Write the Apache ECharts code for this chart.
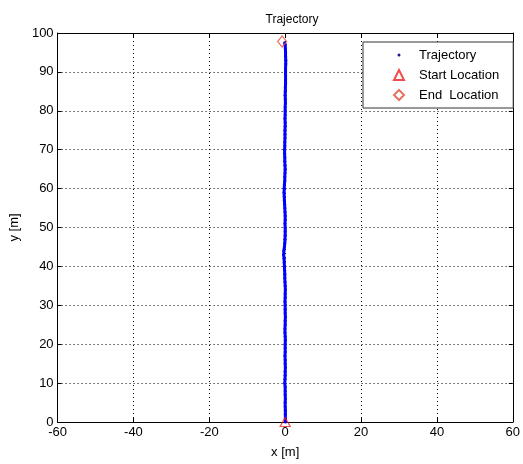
<!DOCTYPE html>
<html><head><meta charset="utf-8">
<script src="https://cdn.jsdelivr.net/npm/echarts@6/dist/echarts.min.js"></script>
<style>html,body{margin:0;padding:0;background:#fff}#c{width:523px;height:464px}</style>
</head><body><div id="c"></div>
<script>
// Trajectory samples (y in metres and corresponding x in metres)
var trajY = [0,1,2,3,4,5,6,7,8,9,10,11,12,13,14,15,16,17,18,19,20,21,22,23,24,25,26,27,28,29,
  30,31,32,33,34,35,36,37,38,39,40,41,42,43,44,45,46,47,48,49,50,51,52,53,54,55,56,57,58,59,
  60,61,62,63,64,65,66,67,68,69,70,71,72,73,74,75,76,77,78,79,80,81,82,83,84,85,86,87,88,89,
  90,91,92,93,94,95,96,97,97.5];
var trajX = [0.05,0.05,0.05,0.05,0.0,0.0,0.05,0.0,0.0,0.0,
  -0.1,-0.05,0.0,0.0,0.05,0.0,0.0,-0.05,0.0,0.0,
  0.0,0.05,0.0,-0.05,-0.05,0.0,0.0,0.05,0.0,0.0,
  0.0,-0.05,0.0,0.0,0.05,0.0,-0.05,-0.1,-0.1,-0.15,
  -0.2,-0.25,-0.3,-0.4,-0.35,-0.2,-0.1,-0.05,0.0,0.0,
  0.0,-0.05,0.0,0.0,-0.05,-0.1,-0.15,-0.2,-0.25,-0.3,
  -0.25,-0.2,-0.1,-0.1,-0.05,0.0,-0.05,-0.1,-0.1,-0.15,
  -0.15,-0.1,-0.1,-0.05,-0.05,-0.05,0.0,0.0,-0.05,0.0,
  0.0,0.0,0.05,0.05,0.0,0.05,0.05,0.1,0.1,0.1,
  0.1,0.1,0.15,0.15,0.1,0.1,0.05,0.0,-0.15];
var startLoc = [0, 0];
var endLoc = [-0.8, 97.8];
var xTicks = [-60,-40,-20,0,20,40,60];
var yTicks = [0,10,20,30,40,50,60,70,80,90,100];

var font = 'Liberation Sans, Arial, sans-serif';
var traj = trajX.map(function(x,i){return [x, trajY[i]];});
var chart = echarts.init(document.getElementById('c'));
var axisLineStyle = {show:true,onZero:false,lineStyle:{color:'#000',width:1}};
var axisTickStyle = {show:true,inside:true,length:4,lineStyle:{color:'#000'}};
var dotIcon = 'path://M0,0M10,10M3.5,5a1.5,1.5 0 1,0 3,0a1.5,1.5 0 1,0 -3,0';
chart.setOption({
  animation:false,
  backgroundColor:'#fff',
  title:{text:'Trajectory',left:287,textAlign:'center',top:9,
    textStyle:{fontFamily:font,fontSize:12,fontWeight:'normal',color:'#000'}},
  grid:{left:56,right:5,top:33,bottom:41,containLabel:false},
  xAxis:[{type:'value',min:xTicks[0],max:xTicks[xTicks.length-1],interval:20,position:'bottom',
    name:'x [m]',nameLocation:'middle',nameGap:24,
    nameTextStyle:{fontFamily:font,fontSize:13,color:'#000'},
    axisLabel:{fontFamily:font,fontSize:13,color:'#000',margin:4,showMinLabel:true,showMaxLabel:true},
    axisLine:axisLineStyle,axisTick:axisTickStyle,
    splitLine:{show:true,lineStyle:{color:'#000',type:[1,3],width:1}}},
   {type:'value',min:xTicks[0],max:xTicks[xTicks.length-1],interval:20,position:'top',
    axisLabel:{show:false},splitLine:{show:false},axisLine:axisLineStyle,axisTick:axisTickStyle}],
  yAxis:[{type:'value',min:yTicks[0],max:yTicks[yTicks.length-1],interval:10,position:'left',
    name:'y [m]',nameLocation:'middle',nameGap:36,
    nameTextStyle:{fontFamily:font,fontSize:13,color:'#000'},
    axisLabel:{fontFamily:font,fontSize:13,color:'#000',margin:4},
    axisLine:axisLineStyle,axisTick:axisTickStyle,
    splitLine:{show:true,lineStyle:{color:'#000',type:[1,3],width:1}}},
   {type:'value',min:yTicks[0],max:yTicks[yTicks.length-1],interval:10,position:'right',
    axisLabel:{show:false},splitLine:{show:false},axisLine:axisLineStyle,axisTick:axisTickStyle}],
  legend:{
    orient:'vertical',left:363,top:42,
    padding:[6,14,6,30],itemWidth:10,itemHeight:10,itemGap:6,
    backgroundColor:'#fff',borderColor:'#333',borderWidth:1,
    textStyle:{fontFamily:font,fontSize:13,color:'#000',lineHeight:14,padding:[0,0,0,10]},
    data:[
      {name:'Trajectory',icon:dotIcon,itemStyle:{color:'#1a1a8a'}},
      {name:'Start Location'},
      {name:'End  Location'}
    ]
  },
  series:[
    {name:'Trajectory',type:'line',data:traj,xAxisIndex:0,yAxisIndex:0,
      symbol:'circle',symbolSize:3,showSymbol:true,
      lineStyle:{color:'#0000ff',width:3},itemStyle:{color:'#0000ff'},z:3},
    {name:'Start Location',type:'scatter',data:[startLoc],symbol:'triangle',symbolSize:[10,9],
      itemStyle:{color:'rgba(0,0,0,0)',borderColor:'#ee2020',borderWidth:1.2},z:4},
    {name:'End  Location',type:'scatter',data:[endLoc],symbol:'diamond',symbolSize:[9,11],
      itemStyle:{color:'rgba(0,0,0,0)',borderColor:'#e0503a',borderWidth:1.2},z:4}
  ]
});
</script></body></html>
